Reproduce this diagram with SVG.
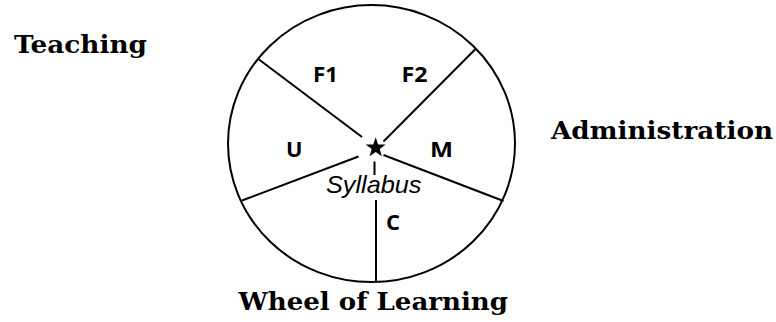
<svg xmlns="http://www.w3.org/2000/svg" width="776" height="322" viewBox="0 0 776 322">
<style>
.title{font-family:"DejaVu Serif","Liberation Serif",serif;font-weight:bold;font-size:25px;fill:#000}
.lbl{font-family:"Open Sans","Liberation Sans",Arial,sans-serif;font-weight:bold;font-size:21px;fill:#000}
.ital{font-family:"Liberation Sans",Arial,sans-serif;font-style:italic;font-size:24px;fill:#000}
.ln{stroke:#000;stroke-width:2;fill:none}
</style>
<rect width="776" height="322" fill="#fff"/>
<g id="wheel">
<ellipse class="ln" cx="371.5" cy="143.6" rx="143.5" ry="138.5"/>
</g>
<g id="connectors">
<line class="ln" x1="259" y1="59.5" x2="362" y2="137"/>
<line class="ln" x1="475.5" y1="49" x2="383.5" y2="141.5"/>
<line class="ln" x1="242" y1="200.5" x2="358.5" y2="156.5"/>
<line class="ln" x1="383.5" y1="155" x2="503.5" y2="201"/>
<line class="ln" x1="374.5" y1="161.5" x2="374.5" y2="175"/>
<line class="ln" x1="376" y1="200" x2="376" y2="282.5"/>
</g>
<g id="star">
<polygon fill="#000" points="375.7,137.3 378.17,144.4 385.7,144.56 379.69,149.1 381.87,156.29 375.7,152 369.53,156.29 371.71,149.1 365.7,144.56 373.23,144.4"/>
</g>
<g id="F1"><text class="lbl" x="313" y="81.7" textLength="25" lengthAdjust="spacingAndGlyphs">F1</text></g>
<g id="F2"><text class="lbl" x="401.5" y="81.7" textLength="26" lengthAdjust="spacingAndGlyphs">F2</text></g>
<g id="U"><text class="lbl" x="286" y="156.7" textLength="16.5" lengthAdjust="spacingAndGlyphs">U</text></g>
<g id="M"><text class="lbl" x="430" y="156.7" textLength="23" lengthAdjust="spacingAndGlyphs">M</text></g>
<g id="C"><text class="lbl" x="386" y="230" textLength="14" lengthAdjust="spacingAndGlyphs">C</text></g>
<g id="syllabus"><text class="ital" x="326" y="192.7" textLength="95.5" lengthAdjust="spacingAndGlyphs">Syllabus</text></g>
<g id="teaching"><text class="title" x="14" y="52.5" textLength="133" lengthAdjust="spacingAndGlyphs">Teaching</text></g>
<g id="administration"><text class="title" x="551" y="139.3" textLength="222" lengthAdjust="spacingAndGlyphs">Administration</text></g>
<g id="wheel-title"><text class="title" x="238.5" y="310" textLength="269.5" lengthAdjust="spacingAndGlyphs">Wheel of Learning</text></g>
</svg>
